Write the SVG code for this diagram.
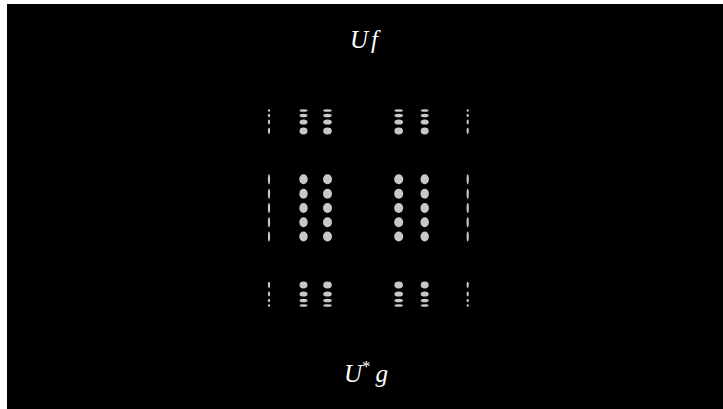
<svg xmlns="http://www.w3.org/2000/svg" width="723" height="409" viewBox="0 0 723 409">
<style>
.d{fill:#c8c8c8}
.t{font-family:"Liberation Serif","DejaVu Serif",serif;font-style:italic;font-size:25px;fill:#ffffff}
</style>
<rect x="0" y="0" width="723" height="409" fill="#ffffff"/>
<rect x="7" y="4" width="716" height="405" fill="#000000"/>
<text class="t" x="350" y="48">U<tspan dx="3">f</tspan></text>
<text class="t" x="344" y="382">U<tspan dy="-10" font-size="17" font-style="normal">*</tspan><tspan dy="10" dx="5">g</tspan></text>
<g id="top">
<ellipse class="d" cx="269" cy="110.5" rx="1.1" ry="1.2"/><ellipse class="d" cx="269" cy="115.5" rx="1.1" ry="1.7"/><ellipse class="d" cx="269" cy="122" rx="1.1" ry="2.4"/><ellipse class="d" cx="269" cy="131" rx="1.1" ry="3.2"/>
<ellipse class="d" cx="303.5" cy="110.5" rx="4" ry="1.3"/><ellipse class="d" cx="303.5" cy="115.5" rx="4" ry="1.8"/><ellipse class="d" cx="303.5" cy="122" rx="4" ry="2.6"/><ellipse class="d" cx="303.5" cy="131" rx="4" ry="3.4"/>
<ellipse class="d" cx="327.5" cy="110.5" rx="4.3" ry="1.3"/><ellipse class="d" cx="327.5" cy="115.5" rx="4.3" ry="1.8"/><ellipse class="d" cx="327.5" cy="122" rx="4.3" ry="2.6"/><ellipse class="d" cx="327.5" cy="131" rx="4.3" ry="3.4"/>
<ellipse class="d" cx="398.7" cy="110.5" rx="4.3" ry="1.3"/><ellipse class="d" cx="398.7" cy="115.5" rx="4.3" ry="1.8"/><ellipse class="d" cx="398.7" cy="122" rx="4.3" ry="2.6"/><ellipse class="d" cx="398.7" cy="131" rx="4.3" ry="3.4"/>
<ellipse class="d" cx="424.7" cy="110.5" rx="4" ry="1.3"/><ellipse class="d" cx="424.7" cy="115.5" rx="4" ry="1.8"/><ellipse class="d" cx="424.7" cy="122" rx="4" ry="2.6"/><ellipse class="d" cx="424.7" cy="131" rx="4" ry="3.4"/>
<ellipse class="d" cx="467.7" cy="110.5" rx="1.1" ry="1.2"/><ellipse class="d" cx="467.7" cy="115.5" rx="1.1" ry="1.7"/><ellipse class="d" cx="467.7" cy="122" rx="1.1" ry="2.4"/><ellipse class="d" cx="467.7" cy="131" rx="1.1" ry="3.2"/>
</g>
<g id="middle">
<ellipse class="d" cx="269" cy="179.3" rx="1.1" ry="5"/><ellipse class="d" cx="269" cy="193.7" rx="1.1" ry="5"/><ellipse class="d" cx="269" cy="208" rx="1.1" ry="5"/><ellipse class="d" cx="269" cy="222.3" rx="1.1" ry="5"/><ellipse class="d" cx="269" cy="236.5" rx="1.1" ry="5"/>
<ellipse class="d" cx="303.5" cy="179.3" rx="4.2" ry="5"/><ellipse class="d" cx="303.5" cy="193.7" rx="4.2" ry="5"/><ellipse class="d" cx="303.5" cy="208" rx="4.2" ry="5"/><ellipse class="d" cx="303.5" cy="222.3" rx="4.2" ry="5"/><ellipse class="d" cx="303.5" cy="236.5" rx="4.2" ry="5"/>
<ellipse class="d" cx="327.5" cy="179.3" rx="4.5" ry="5"/><ellipse class="d" cx="327.5" cy="193.7" rx="4.5" ry="5"/><ellipse class="d" cx="327.5" cy="208" rx="4.5" ry="5"/><ellipse class="d" cx="327.5" cy="222.3" rx="4.5" ry="5"/><ellipse class="d" cx="327.5" cy="236.5" rx="4.5" ry="5"/>
<ellipse class="d" cx="398.7" cy="179.3" rx="4.5" ry="5"/><ellipse class="d" cx="398.7" cy="193.7" rx="4.5" ry="5"/><ellipse class="d" cx="398.7" cy="208" rx="4.5" ry="5"/><ellipse class="d" cx="398.7" cy="222.3" rx="4.5" ry="5"/><ellipse class="d" cx="398.7" cy="236.5" rx="4.5" ry="5"/>
<ellipse class="d" cx="424.7" cy="179.3" rx="4.2" ry="5"/><ellipse class="d" cx="424.7" cy="193.7" rx="4.2" ry="5"/><ellipse class="d" cx="424.7" cy="208" rx="4.2" ry="5"/><ellipse class="d" cx="424.7" cy="222.3" rx="4.2" ry="5"/><ellipse class="d" cx="424.7" cy="236.5" rx="4.2" ry="5"/>
<ellipse class="d" cx="467.7" cy="179.3" rx="1.1" ry="5"/><ellipse class="d" cx="467.7" cy="193.7" rx="1.1" ry="5"/><ellipse class="d" cx="467.7" cy="208" rx="1.1" ry="5"/><ellipse class="d" cx="467.7" cy="222.3" rx="1.1" ry="5"/><ellipse class="d" cx="467.7" cy="236.5" rx="1.1" ry="5"/>
</g>
<g id="bottom">
<ellipse class="d" cx="269" cy="285" rx="1.1" ry="3.2"/><ellipse class="d" cx="269" cy="294" rx="1.1" ry="2.4"/><ellipse class="d" cx="269" cy="300.5" rx="1.1" ry="1.7"/><ellipse class="d" cx="269" cy="305.5" rx="1.1" ry="1.2"/>
<ellipse class="d" cx="303.5" cy="285" rx="4" ry="3.4"/><ellipse class="d" cx="303.5" cy="294" rx="4" ry="2.6"/><ellipse class="d" cx="303.5" cy="300.5" rx="4" ry="1.8"/><ellipse class="d" cx="303.5" cy="305.5" rx="4" ry="1.3"/>
<ellipse class="d" cx="327.5" cy="285" rx="4.3" ry="3.4"/><ellipse class="d" cx="327.5" cy="294" rx="4.3" ry="2.6"/><ellipse class="d" cx="327.5" cy="300.5" rx="4.3" ry="1.8"/><ellipse class="d" cx="327.5" cy="305.5" rx="4.3" ry="1.3"/>
<ellipse class="d" cx="398.7" cy="285" rx="4.3" ry="3.4"/><ellipse class="d" cx="398.7" cy="294" rx="4.3" ry="2.6"/><ellipse class="d" cx="398.7" cy="300.5" rx="4.3" ry="1.8"/><ellipse class="d" cx="398.7" cy="305.5" rx="4.3" ry="1.3"/>
<ellipse class="d" cx="424.7" cy="285" rx="4" ry="3.4"/><ellipse class="d" cx="424.7" cy="294" rx="4" ry="2.6"/><ellipse class="d" cx="424.7" cy="300.5" rx="4" ry="1.8"/><ellipse class="d" cx="424.7" cy="305.5" rx="4" ry="1.3"/>
<ellipse class="d" cx="467.7" cy="285" rx="1.1" ry="3.2"/><ellipse class="d" cx="467.7" cy="294" rx="1.1" ry="2.4"/><ellipse class="d" cx="467.7" cy="300.5" rx="1.1" ry="1.7"/><ellipse class="d" cx="467.7" cy="305.5" rx="1.1" ry="1.2"/>
</g>
</svg>
